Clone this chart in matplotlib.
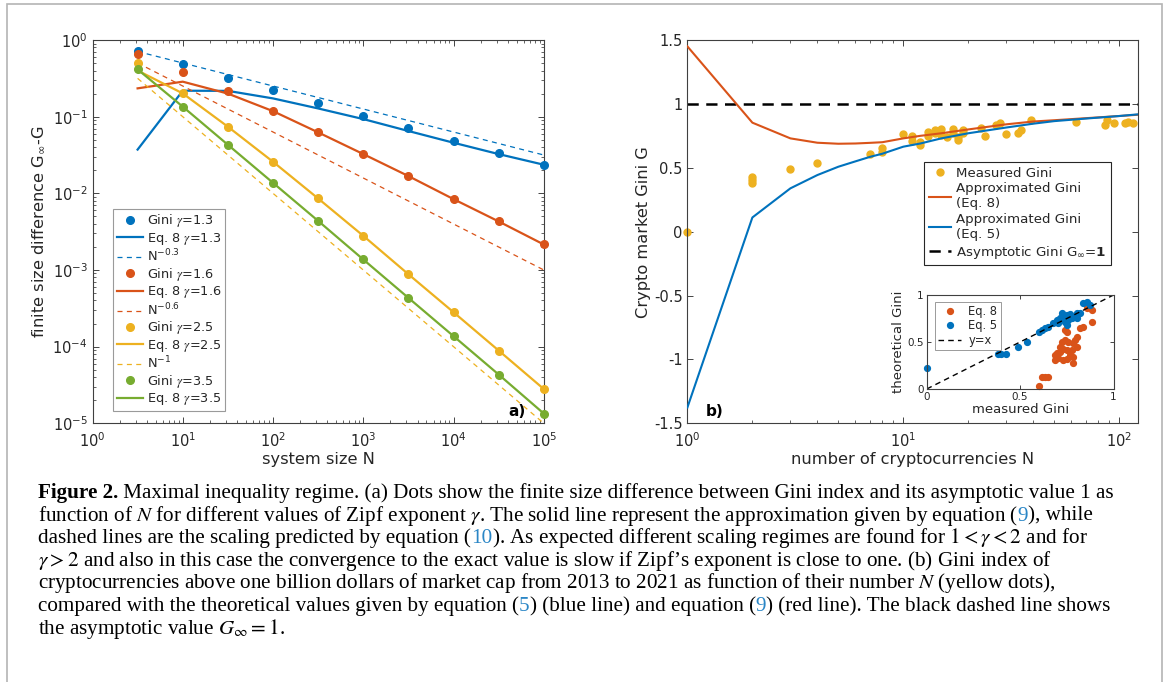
import matplotlib
matplotlib.use("Agg")
import matplotlib.pyplot as plt
from matplotlib.patches import Rectangle
from matplotlib.ticker import FixedLocator, FixedFormatter, NullFormatter, LogLocator

# ---------------- panel a: finite size difference ----------------
N_a = [3.16, 10, 31.6, 100, 316, 1000, 3160, 10000, 31600, 100000]
gini_13 = [0.72, 0.48, 0.32, 0.222, 0.149, 0.102, 0.0703, 0.0485, 0.0338, 0.0236]
eq8_13 = [0.0372, 0.218, 0.217, 0.173, 0.128, 0.093, 0.065, 0.0457, 0.0325, 0.0236]
gini_16 = [0.65, 0.378, 0.218, 0.118, 0.0624, 0.0325, 0.0168, 0.0084, 0.0043, 0.00215]
eq8_16 = [0.234, 0.286, 0.2, 0.118, 0.0624, 0.0325, 0.0168, 0.0084, 0.0043, 0.00215]
gini_25 = [0.506, 0.201, 0.074, 0.0258, 0.00857, 0.00279, 8.8e-4, 2.81e-4, 8.9e-5, 2.8e-5]
eq8_25 = [0.40, 0.201, 0.074, 0.0258, 0.00857, 0.00279, 8.8e-4, 2.81e-4, 8.9e-5, 2.8e-5]
gini_35 = [0.414, 0.135, 0.043, 0.0137, 0.00437, 0.00137, 4.33e-4, 1.37e-4, 4.33e-5, 1.34e-5]
eq8_35 = [0.414, 0.135, 0.043, 0.0137, 0.00437, 0.00137, 4.33e-4, 1.37e-4, 4.33e-5, 1.34e-5]
N_scal = [3.16, 100000]
scal_03 = [0.708, 0.0316]
scal_06 = [0.501, 0.001]
scal_10 = [0.316, 1e-5]

# ---------------- panel b: crypto market ----------------
N_meas = [1, 2, 2, 2, 3, 4, 7, 8, 8, 10, 11, 11, 12, 12, 13, 13, 14, 14, 15, 15, 16,
          17, 17, 18, 18, 19, 19, 23, 24, 27, 28, 30, 34, 35, 39, 63, 86, 88, 95,
          106, 110, 116]
G_meas = [0.0, 0.43, 0.405, 0.38, 0.487, 0.537, 0.607, 0.652, 0.625, 0.764, 0.748, 0.711,
          0.704, 0.678, 0.782, 0.748, 0.795, 0.77, 0.80, 0.756, 0.74, 0.80, 0.77, 0.738,
          0.717, 0.795, 0.77, 0.808, 0.748, 0.834, 0.848, 0.764, 0.774, 0.795, 0.874,
          0.86, 0.834, 0.874, 0.853, 0.848, 0.86, 0.853]
N_theo = [1, 2, 3, 4, 5, 6, 7, 8, 10, 12, 15, 20, 30, 40, 50, 70, 100, 122]
G_eq8 = [1.45, 0.853, 0.73, 0.696, 0.688, 0.69, 0.695, 0.70, 0.73, 0.75, 0.77, 0.80,
         0.84, 0.862, 0.872, 0.888, 0.905, 0.915]
G_eq5 = [-1.376, 0.111, 0.339, 0.443, 0.508, 0.55, 0.585, 0.61, 0.665, 0.69, 0.73, 0.77,
         0.815, 0.845, 0.865, 0.885, 0.905, 0.918]
G_inf = 1

# inset: measured vs theoretical
ins_meas5 = [0.0, 0.383, 0.40, 0.425, 0.487, 0.535, 0.603, 0.616, 0.633, 0.651, 0.678,
             0.696, 0.714, 0.731, 0.749, 0.767, 0.785, 0.803, 0.821, 0.838, 0.857, 0.874,
             0.705, 0.74, 0.758, 0.776, 0.722, 0.803, 0.749]
ins_theo5 = [0.22, 0.372, 0.372, 0.372, 0.443, 0.503, 0.61, 0.628, 0.645, 0.656, 0.699,
             0.734, 0.752, 0.777, 0.787, 0.798, 0.769, 0.805, 0.812, 0.91, 0.929, 0.894,
             0.699, 0.716, 0.734, 0.752, 0.805, 0.752, 0.681]
ins_meas8 = [0.603, 0.616, 0.633, 0.651, 0.687, 0.699, 0.687, 0.705, 0.731, 0.749, 0.714,
             0.723, 0.741, 0.758, 0.714, 0.731, 0.749, 0.776, 0.785, 0.794, 0.803, 0.767,
             0.785, 0.803, 0.749, 0.838, 0.821, 0.883, 0.857, 0.883, 0.785, 0.74]
ins_theo8 = [0.032, 0.124, 0.124, 0.124, 0.36, 0.38, 0.31, 0.33, 0.31, 0.32, 0.397,
             0.503, 0.521, 0.503, 0.45, 0.43, 0.41, 0.41, 0.485, 0.521, 0.556, 0.36,
             0.34, 0.45, 0.61, 0.663, 0.645, 0.716, 0.858, 0.84, 0.28, 0.63]

BLUE = '#0072BD'
RED = '#D95319'
YEL = '#EDB120'
GRN = '#77AC30'
AX = '#262626'

plt.rcParams['font.family'] = ['DejaVu Sans']
plt.rcParams['text.color'] = AX
plt.rcParams['axes.labelcolor'] = AX
plt.rcParams['xtick.color'] = AX
plt.rcParams['ytick.color'] = AX
plt.rcParams['axes.edgecolor'] = '#404040'
plt.rcParams['axes.linewidth'] = 0.8

W, H = 1167, 682
fig = plt.figure(figsize=(W / 100, H / 100), dpi=100)


def px_axes(l, t, r, b):
    return fig.add_axes([l / W, 1 - b / H, (r - l) / W, (b - t) / H])


def matlab_ticks(ax, size):
    ax.tick_params(which='both', direction='in', top=True, right=True, labelsize=size)
    ax.tick_params(which='major', length=4, width=0.6)
    ax.tick_params(which='minor', length=2, width=0.5)


# frame around the figure
fig.patches.append(Rectangle((7 / W, -0.1), (1162 - 7) / W, 1.1 - 4 / H,
                             transform=fig.transFigure, fill=False,
                             edgecolor='#b4b4b4', lw=1.2))

# ---------------- panel a ----------------
ax1 = px_axes(92.5, 40, 543.8, 423.3)
ax1.set_xscale('log')
ax1.set_yscale('log')
dot = dict(ls='none', marker='o', ms=5.5, zorder=3, clip_on=False)
sol = dict(lw=1.6)
dsh = dict(lw=0.9, ls=(0, (4, 3.5)))
h = []
h += ax1.plot(N_a, gini_13, color=BLUE, label=r'Gini $\gamma$=1.3', **dot)
h += ax1.plot(N_a, eq8_13, color=BLUE, label=r'Eq. 8 $\gamma$=1.3', **sol)
h += ax1.plot(N_scal, scal_03, color=BLUE, label=r'N$^{-0.3}$', **dsh)
h += ax1.plot(N_a, gini_16, color=RED, label=r'Gini $\gamma$=1.6', **dot)
h += ax1.plot(N_a, eq8_16, color=RED, label=r'Eq. 8 $\gamma$=1.6', **sol)
h += ax1.plot(N_scal, scal_06, color=RED, label=r'N$^{-0.6}$', **dsh)
h += ax1.plot(N_a, gini_25, color=YEL, label=r'Gini $\gamma$=2.5', **dot)
h += ax1.plot(N_a, eq8_25, color=YEL, label=r'Eq. 8 $\gamma$=2.5', **sol)
h += ax1.plot(N_scal, scal_10, color=YEL, label=r'N$^{-1}$', **dsh)
h += ax1.plot(N_a, gini_35, color=GRN, label=r'Gini $\gamma$=3.5', **dot)
h += ax1.plot(N_a, eq8_35, color=GRN, label=r'Eq. 8 $\gamma$=3.5', **sol)
ax1.set_xlim(1, 1e5)
ax1.set_ylim(1e-5, 1)
ax1.xaxis.set_major_locator(LogLocator(base=10, numticks=10))
ax1.yaxis.set_major_locator(LogLocator(base=10, numticks=10))
ax1.xaxis.set_minor_locator(LogLocator(base=10, subs=range(2, 10), numticks=20))
ax1.yaxis.set_minor_locator(LogLocator(base=10, subs=range(2, 10), numticks=20))
ax1.xaxis.set_minor_formatter(NullFormatter())
ax1.yaxis.set_minor_formatter(NullFormatter())
matlab_ticks(ax1, 10.5)
ax1.tick_params(axis='x', which='major', pad=6)
ax1.set_xlabel('system size N', fontsize=11.7, labelpad=1)
ax1.set_ylabel(r'finite size difference G$_{\infty}$-G', fontsize=11.7, labelpad=4)
leg1 = ax1.legend(handles=h, loc='lower left', bbox_to_anchor=(0.046, 0.032),
                  borderaxespad=0, fontsize=9.3, handlelength=2.0, handletextpad=0.3,
                  labelspacing=0.1, borderpad=0.3, fancybox=False, framealpha=1,
                  edgecolor='#9a9a9a')
leg1.get_frame().set_linewidth(0.8)
for t in leg1.get_texts():
    if 'gamma' in t.get_text():
        t.set_math_fontfamily('stix')
ax1.text(0.96, 0.011, 'a)', transform=ax1.transAxes, ha='right', va='bottom',
         fontsize=11, fontweight='bold', color='black')

# ---------------- panel b ----------------
ax2 = px_axes(687.4, 40, 1137.8, 423.3)
ax2.set_xscale('log')
hb = []
hb += ax2.plot(N_meas, G_meas, ls='none', marker='o', ms=5, color=YEL,
               label='Measured Gini', zorder=2, clip_on=False)
hb += ax2.plot(N_theo, G_eq8, color=RED, lw=1.5, label='Approximated Gini\n(Eq. 8)', zorder=3)
hb += ax2.plot(N_theo, G_eq5, color=BLUE, lw=1.5, label='Approximated Gini\n(Eq. 5)', zorder=4)
hb.append(ax2.axhline(G_inf, color='black', lw=1.8, ls=(0, (4.5, 3)),
                      label=r'Asymptotic Gini G$_{\infty}$=$\mathbf{1}$'))
ax2.set_xlim(1, 122)
ax2.set_ylim(-1.5, 1.5)
yt = [-1.5, -1, -0.5, 0, 0.5, 1, 1.5]
ax2.yaxis.set_major_locator(FixedLocator(yt))
ax2.yaxis.set_major_formatter(FixedFormatter(['-1.5', '-1', '-0.5', '0', '0.5', '1', '1.5']))
ax2.xaxis.set_minor_locator(LogLocator(base=10, subs=range(2, 10), numticks=20))
ax2.xaxis.set_minor_formatter(NullFormatter())
matlab_ticks(ax2, 10.5)
ax2.tick_params(axis='x', which='major', pad=6)
ax2.set_xlabel('number of cryptocurrencies N', fontsize=11.7, labelpad=1)
ax2.set_ylabel('Crypto market Gini G', fontsize=11.7, labelpad=2)
leg2 = ax2.legend(handles=hb, loc='upper left', bbox_to_anchor=(0.525, 0.682),
                  borderaxespad=0, fontsize=9.6, handlelength=1.7, handletextpad=0.35,
                  labelspacing=0.2, borderpad=0.35, fancybox=False, framealpha=1,
                  edgecolor=AX)
leg2.get_frame().set_linewidth(0.8)
ax2.text(0.04, 0.011, 'b)', transform=ax2.transAxes, ha='left', va='bottom',
         fontsize=11, fontweight='bold', color='black')

# inset
ax3 = px_axes(926.7, 295, 1113.5, 389)
ax3.plot(ins_meas8, ins_theo8, ls='none', marker='o', ms=4.2, color=RED, label='Eq. 8',
         clip_on=False)
ax3.plot(ins_meas5, ins_theo5, ls='none', marker='o', ms=4.2, color=BLUE, label='Eq. 5',
         clip_on=False)
ax3.plot([0, 1], [0, 1], color='black', lw=1.0, ls=(0, (4, 3)), label='y=x')
ax3.set_xlim(0, 1)
ax3.set_ylim(0, 1)
ax3.set_xticks([0, 0.5, 1])
ax3.set_yticks([0, 0.5, 1])
ax3.set_xticklabels(['0', '0.5', '1'])
ax3.set_yticklabels(['0', '0.5', '1'])
matlab_ticks(ax3, 7.5)
ax3.tick_params(which='major', length=3, pad=2)
ax3.set_xlabel('measured Gini', fontsize=9.5, labelpad=1)
ax3.set_ylabel('theoretical Gini', fontsize=9.5, labelpad=2)
leg3 = ax3.legend(loc='upper left', bbox_to_anchor=(0.044, 0.93), borderaxespad=0,
                  fontsize=8.3, handlelength=2.0, handletextpad=0.6, labelspacing=0.12,
                  borderpad=0.3, fancybox=False, framealpha=1, edgecolor='#9a9a9a')
leg3.get_frame().set_linewidth(0.7)

# ---------------- caption ----------------
renderer = fig.canvas.get_renderer()
CAP_FONT = 'Liberation Serif'
LINK = '#2a86c6'


def adv(s, size, weight):
    # advance width of a segment, spaces included
    def w(txt):
        t = fig.text(0, 0, txt, fontsize=size, family=CAP_FONT, fontweight=weight,
                     math_fontfamily='stix')
        bb = t.get_window_extent(renderer)
        t.remove()
        return bb.width
    return w('|' + s + '|') - w('||')


cap_lines = [
    [(r'Figure 2.', 'k', 'bold'),
     (' Maximal inequality regime. (a) Dots show the finite size difference between '
      'Gini index and its asymptotic value 1 as', 'k', 'normal')],
    [(r'function of $N$ for different values of Zipf exponent $\gamma$. The solid line '
      r'represent the approximation given by equation (', 'k', 'normal'),
     ('9', 'b', 'normal'), ('), while', 'k', 'normal')],
    [('dashed lines are the scaling predicted by equation (', 'k', 'normal'),
     ('10', 'b', 'normal'),
     (r'). As expected different scaling regimes are found for $1<\gamma<2$ and for',
      'k', 'normal')],
    [(r'$\gamma>2$ and also in this case the convergence to the exact value is slow if '
      'Zipf\u2019s exponent is close to one. (b) Gini index of', 'k', 'normal')],
    [(r'cryptocurrencies above one billion dollars of market cap from 2013 to 2021 as '
      r'function of their number $N$ (yellow dots),', 'k', 'normal')],
    [('compared with the theoretical values given by equation (', 'k', 'normal'),
     ('5', 'b', 'normal'), (') (blue line) and equation (', 'k', 'normal'),
     ('9', 'b', 'normal'), (') (red line). The black dashed line shows', 'k', 'normal')],
    [(r'the asymptotic value $G_{\infty}=1$.', 'k', 'normal')],
]

base = 12.0
w1 = sum(adv(s, base, wt) for s, c, wt in cap_lines[0])
cap_size = base * 1070 / w1

x0 = 38
y_first = 498
dy = 22.6
for i, line in enumerate(cap_lines):
    x = x0
    y = y_first + i * dy
    for s, c, wt in line:
        fig.text(x / W, 1 - y / H, s, fontsize=cap_size, family=CAP_FONT,
                 fontweight=wt, math_fontfamily='stix', va='baseline', ha='left',
                 color=LINK if c == 'b' else 'black')
        x += adv(s, cap_size, wt)

fig.savefig('out.png', dpi=100)
